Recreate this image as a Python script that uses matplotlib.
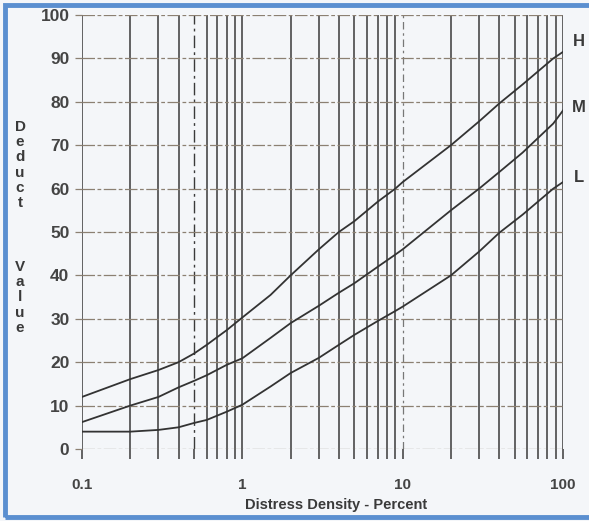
import numpy as np
import matplotlib
matplotlib.use("Agg")
import matplotlib.pyplot as plt
from matplotlib.patches import Rectangle

# Data
density = [0.1, 0.2, 0.3, 0.4, 0.5, 0.6, 0.8, 1, 1.5, 2, 3, 4, 5, 7, 9, 10, 20, 30, 40, 56, 87, 100]
high    = [12, 16.1, 18.2, 20, 22, 24, 27.4, 30.3, 35.5, 40, 46, 50, 52.5, 57, 60, 61.5, 70, 75.5, 79.6, 84, 90, 91.5]
medium  = [6.2, 10, 12, 14.2, 15.7, 17, 19.4, 20.9, 25.6, 29, 33, 36, 38.2, 42, 44.8, 46, 55, 60, 63.8, 68.3, 75, 78]
low     = [4, 4, 4.4, 5, 6, 6.7, 8.6, 10.2, 14.4, 17.5, 21, 24, 26.3, 29.5, 31.8, 32.8, 40, 45.5, 49.8, 54, 60, 61.5]
curve_labels = ["H", "M", "L"]
xticks = [0.1, 1, 10, 100]
xticklabels = ["0.1", "1", "10", "100"]
yticks = list(range(0, 101, 10))

plt.rcParams["font.family"] = ["Liberation Sans", "DejaVu Sans"]

W, H = 589, 521
fig = plt.figure(figsize=(W / 100, H / 100), dpi=100)
fig.patch.set_facecolor("#f4f6f9")

# blue frame
fig.patches.append(Rectangle((5 / W, 4 / H), 1.2, 1 - 9 / H, transform=fig.transFigure,
                             fill=False, edgecolor="#5b8fd0", linewidth=3.5, zorder=0))

ax = fig.add_axes([82 / W, 1 - 449 / H, (563 - 82) / W, (449 - 15) / H])
ax.set_facecolor("#f4f6f9")
ax.set_xscale("log")
ax.set_xlim(0.1, 100)
ax.set_ylim(0, 100)
for s in ax.spines.values():
    s.set_visible(False)

grid_col = "#3a3a3a"
# vertical log grid
for dec in [0.1, 1, 10]:
    for k in range(1, 10):
        xv = dec * k
        if abs(xv - 0.5) < 1e-9:
            ax.axvline(xv, color=grid_col, lw=1.0, ls=(0, (9, 3, 2, 3)), zorder=1)
        elif abs(xv - 10) < 1e-9:
            ax.axvline(xv, color="#777777", lw=0.9, ls=(0, (6, 3, 2, 3)), zorder=1)
        else:
            ax.axvline(xv, color=grid_col, lw=1.1, zorder=1)
ax.axvline(100, color=grid_col, lw=1.1, zorder=1)
# horizontal grid
for yv in yticks:
    ax.axhline(yv, color="#8c8072", lw=0.9, ls=(0, (10, 2, 3, 2)), zorder=1)

ax.set_xticks(xticks)
ax.set_xticklabels(xticklabels)
ax.xaxis.set_minor_locator(matplotlib.ticker.LogLocator(base=10, subs=np.arange(2, 10)))
ax.xaxis.set_minor_formatter(matplotlib.ticker.NullFormatter())
ax.set_yticks(yticks)
ax.tick_params(axis="x", which="both", direction="out", length=7, width=1.1,
               color=grid_col, labelsize=11, labelcolor="#444444", pad=14)
ax.tick_params(axis="y", direction="out", length=5, width=0.9,
               color="#8c8072", labelsize=12.5, labelcolor="#444444", pad=4)
for lab in ax.get_xticklabels() + ax.get_yticklabels():
    lab.set_fontweight("bold")

for series in [high, medium, low]:
    ax.plot(density, series, color="#333333", lw=1.3, zorder=3)

# curve labels
for lab, ypx in zip(curve_labels, [42, 108, 178]):
    fig.text(579 / W, 1 - ypx / H, lab, ha="center", va="center",
             fontsize=12, fontweight="bold", color="#3a3a3a")

fig.text(336 / W, 1 - 505 / H, "Distress Density - Percent", ha="center", va="center",
         fontsize=10.5, fontweight="bold", color="#3a3a3a")

ylab = "Deduct"
ylab2 = "Value"
y0 = 127
for i, ch in enumerate(ylab):
    fig.text(20 / W, 1 - (y0 + i * 15.2) / H, ch, ha="center", va="center",
             fontsize=11, fontweight="bold", color="#3a3a3a")
y1 = 267
for i, ch in enumerate(ylab2):
    fig.text(20 / W, 1 - (y1 + i * 15.2) / H, ch, ha="center", va="center",
             fontsize=11, fontweight="bold", color="#3a3a3a")

fig.savefig("out.png", dpi=100, facecolor=fig.get_facecolor())
